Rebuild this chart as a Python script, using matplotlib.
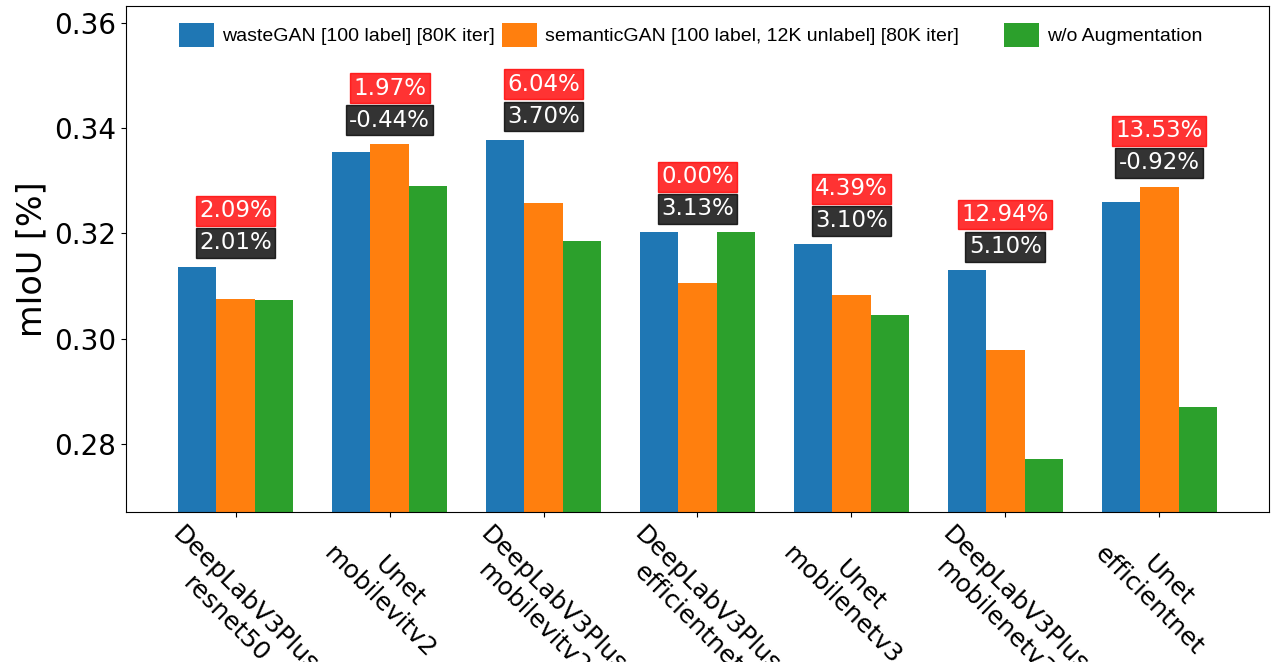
import numpy as np
import matplotlib
matplotlib.use('Agg')
from matplotlib import pyplot as plt

models = ['DeepLabV3Plus\nresnet50', 'Unet\nmobilevitv2', 'DeepLabV3Plus\nmobilevitv2',
          'DeepLabV3Plus\nefficientnet', 'Unet\nmobilenetv3', 'DeepLabV3Plus\nmobilenetv3',
          'Unet\nefficientnet']
waste_gan = [0.3137, 0.3355, 0.3377, 0.3202, 0.3179, 0.3130, 0.3259]
semantic_gan = [0.3075, 0.3370, 0.3257, 0.3105, 0.3083, 0.2978, 0.3289]
no_aug = [0.3073, 0.3290, 0.3185, 0.3202, 0.3045, 0.2771, 0.2870]
gain_vs_noaug = ['2.09%', '1.97%', '6.04%', '0.00%', '4.39%', '12.94%', '13.53%']
gain_vs_semantic = ['2.01%', '-0.44%', '3.70%', '3.13%', '3.10%', '5.10%', '-0.92%']
series_names = ['wasteGAN [100 label] [80K iter]',
                'semanticGAN [100 label, 12K unlabel] [80K iter]',
                'w/o Augmentation']
colors = ['#1f77b4', '#ff7f0e', '#2ca02c']

fig, ax = plt.subplots(figsize=(12.71, 6.62), dpi=100)
fig.subplots_adjust(left=0.0991, right=0.9984, top=0.991, bottom=0.2266)

x = np.arange(len(models))
w = 0.25
for k, (vals, name, c) in enumerate(zip([waste_gan, semantic_gan, no_aug], series_names, colors)):
    ax.bar(x + (k - 1) * w, vals, w, color=c, label=name)

for i in range(len(models)):
    top = max(waste_gan[i], semantic_gan[i], no_aug[i])
    ax.text(x[i], top + 0.0045, gain_vs_semantic[i], ha='center', va='center',
            fontsize=16.5, color='white',
            bbox=dict(boxstyle='square,pad=0.15', fc='black', ec='black', alpha=0.8))
    ax.text(x[i], top + 0.0106, gain_vs_noaug[i], ha='center', va='center',
            fontsize=16.5, color='white',
            bbox=dict(boxstyle='square,pad=0.15', fc='red', ec='red', alpha=0.8))

ax.set_ylim(0.2671, 0.3632)
ax.set_yticks([0.28, 0.30, 0.32, 0.34, 0.36])
ax.tick_params(axis='y', labelsize=20)
ax.set_xticks(x)
ax.set_xticklabels(models, rotation=-45, ha='center', fontsize=18)
ax.set_ylabel('mIoU [%]', fontsize=24)

handles, labels = ax.get_legend_handles_labels()
labels[1] = labels[1] + ' ' * 7
ax.legend(handles, labels, loc='upper center', ncol=3, frameon=False,
          prop={'family': 'Liberation Sans', 'size': 14},
          handlelength=1.8, handleheight=1.45, handletextpad=0.4, columnspacing=0.4,
          bbox_to_anchor=(0.494, 1.0))

fig.savefig('out.png', dpi=100)
